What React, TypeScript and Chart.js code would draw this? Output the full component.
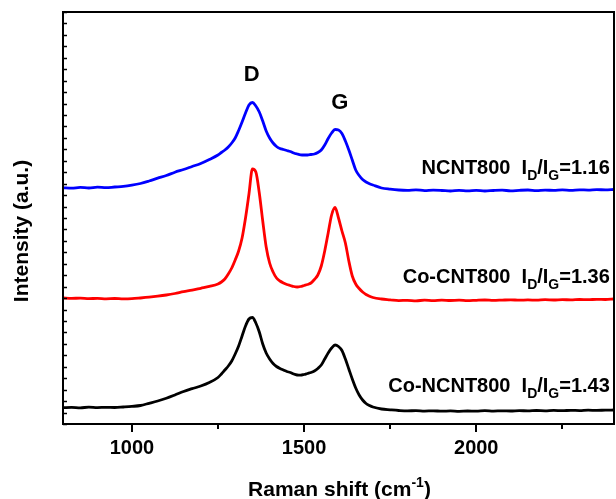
import React, { useEffect, useRef } from 'react';
import { Chart, registerables } from 'chart.js';

Chart.register(...registerables);

// Raman shift grid (cm-1)
const WAVENUMBER = [
  800, 825, 850, 875, 900, 925, 950, 975, 1000, 1025,
  1050, 1075, 1100, 1125, 1150, 1175, 1200, 1225, 1250,
  1260, 1270, 1280, 1290, 1300, 1310, 1320, 1330, 1340, 1350,
  1360, 1370, 1380, 1390, 1400, 1410, 1420, 1430, 1440, 1450,
  1460, 1470, 1480, 1490, 1500, 1510, 1520, 1530, 1540, 1550,
  1560, 1570, 1580, 1590, 1600, 1610, 1620, 1630, 1640, 1650,
  1660, 1670, 1680, 1690, 1700,
  1725, 1750, 1775, 1800, 1825, 1850, 1875, 1900, 1925, 1950,
  1975, 2000, 2025, 2050, 2075, 2100, 2125, 2150, 2175, 2200,
  2225, 2250, 2275, 2300, 2325, 2350, 2375, 2400,
];

// Intensities (a.u.) relative to each spectrum's own baseline
const NCNT800 = [
  1.2, 0.8, 1.6, 1.0, 1.8, 1.3, 2.0, 2.6, 3.8, 5.5,
  8.0, 10.8, 13.5, 16.8, 19.5, 22.5, 25.5, 29.5, 34.0,
  36.5, 39, 42, 46, 51, 58.5, 67, 76, 84, 86.5,
  83, 77, 68, 58, 51, 46, 42.5, 40.5, 39.5, 38.5,
  37.5, 36, 35, 34.2, 34, 34, 34.5, 35, 36.5, 39,
  44, 50.5, 56, 59.5, 59, 55.5, 48, 39, 29, 19,
  13.5, 9.5, 7, 5.3, 4,
  1.0, -0.2, -1.0, -1.3, -0.8, -1.6, -1.2, -1.5, -2.0, -1.3,
  -1.8, -1.4, -2.0, -1.5, -1.2, -1.8, -1.3, -1.0, -1.6, -1.1,
  -1.4, -0.9, -1.3, -0.8, -1.1, -0.6, -0.9, -0.5,
];

const CO_CNT800 = [
  1.0, 0.6, 0.9, 0.4, 0.6, 0.2, 0.5, 0.1, 0.3, 1.0,
  1.8, 2.8, 4.0, 5.5, 7.3, 8.8, 10.7, 12.6, 15,
  17, 20, 25, 31, 39, 48, 61, 81, 105, 130,
  127, 106, 78, 52, 36, 27, 21, 18, 16, 14.5,
  13.5, 12.5, 12, 12.5, 13.5, 14.5, 16, 19.5, 24, 33,
  48, 66, 84, 91.5, 81, 68, 56, 38, 23, 15,
  10.5, 7, 4.5, 2.8, 1.5,
  0, -0.8, -1.6, -1.3, -1.8, -1.2, -1.6, -1.1, -1.5, -1.2,
  -1.7, -1.3, -1.0, -1.4, -1.1, -0.8, -1.2, -0.9, -1.2, -0.7,
  -1.0, -0.6, -0.9, -0.5, -0.7, -0.3, -0.5, 0,
];

const CO_NCNT800 = [
  1.3, 1.6, 1.2, 1.8, 1.4, 1.7, 1.5, 2.0, 2.6, 3.5,
  5.7, 8.0, 10.7, 14.0, 17.5, 20.3, 23, 26.5, 31.5,
  35, 39, 43, 48, 55, 63, 73, 83, 90, 91.5,
  86, 77, 65, 56, 50, 45.5, 42.5, 40.5, 39, 37.5,
  36.5, 35, 34, 33.8, 34.5, 35.5, 36.5, 38, 40.5, 44,
  50, 56, 61, 64, 62.5, 58.5, 50, 40, 30, 21,
  14, 9, 5.5, 3.5, 2,
  0, -0.8, -1.5, -1.9, -1.6, -2.1, -1.8, -2.2, -1.9, -2.3,
  -2.0, -2.2, -1.7, -2.1, -1.8, -2.0, -1.6, -1.9, -1.5, -1.8,
  -1.4, -1.7, -1.3, -1.6, -1.2, -1.4, -1.1, -1.0,
];

// vertical offsets used to stack the spectra
const OFFSET_NCNT800 = 235;
const OFFSET_CO_CNT800 = 125;
const OFFSET_CO_NCNT800 = 15;

const X_MIN = 800;
const X_MAX = 2400;
const Y_MAX = 412;
const Y_TICK_COUNT = 36;
const X_TICKS = [1000, 1250, 1500, 1750, 2000, 2250];
const X_LABELED = [1000, 1500, 2000];

const SAMPLE_NAMES = ['NCNT800', 'Co-CNT800', 'Co-NCNT800'];
const SAMPLE_RATIOS = ['1.16', '1.36', '1.43'];
const SAMPLE_COLORS = ['#0000ff', '#ff0000', '#000000'];
const LABEL_Y = [250, 141, 32];
const LABEL_X = 2388;

const PEAK_NAMES = ['D', 'G'];
const PEAK_X = [1348, 1604];
const PEAK_Y = [349, 321];

const X_TITLE = 'Raman shift (cm';
const X_TITLE_SUP = '-1';
const Y_TITLE = 'Intensity (a.u.)';

const FONT = '"Liberation Sans", Arial, sans-serif';

const decorPlugin = {
  id: 'decor',
  afterDraw(chart: any) {
    const { ctx, chartArea: a, scales } = chart;
    const xs = scales.x;
    const ys = scales.y;
    ctx.save();
    // frame
    ctx.strokeStyle = '#000';
    ctx.lineWidth = 2;
    ctx.strokeRect(a.left, a.top, a.right - a.left, a.bottom - a.top);
    // y ticks (inward)
    ctx.lineWidth = 1.5;
    ys.ticks.forEach((t: any) => {
      const py = Math.round(ys.getPixelForValue(t.value)) + 0.5;
      ctx.beginPath();
      ctx.moveTo(a.left, py);
      ctx.lineTo(a.left + 4, py);
      ctx.stroke();
    });
    // x ticks (outward)
    ctx.lineWidth = 2;
    xs.ticks.forEach((t: any) => {
      const px = Math.round(xs.getPixelForValue(t.value));
      const len = X_LABELED.includes(t.value) ? 8 : 5;
      ctx.beginPath();
      ctx.moveTo(px, a.bottom);
      ctx.lineTo(px, a.bottom + len);
      ctx.stroke();
    });

    ctx.fillStyle = '#000';

    // x title with superscript
    const big = `bold 21px ${FONT}`;
    const sup = `bold 14px ${FONT}`;
    ctx.textBaseline = 'alphabetic';
    ctx.textAlign = 'left';
    const parts1 = [
      { t: X_TITLE, f: big, dy: 0 },
      { t: X_TITLE_SUP, f: sup, dy: -9 },
      { t: ')', f: big, dy: 0 },
    ];
    let w = 0;
    parts1.forEach((p) => { ctx.font = p.f; w += ctx.measureText(p.t).width; });
    let cx = (a.left + a.right) / 2 + 1 - w / 2;
    const baseY = 496;
    parts1.forEach((p) => {
      ctx.font = p.f;
      ctx.fillText(p.t, cx, baseY + p.dy);
      cx += ctx.measureText(p.t).width;
    });

    // y title (rotated)
    ctx.save();
    ctx.translate(22, (a.top + a.bottom) / 2 + 13);
    ctx.rotate(-Math.PI / 2);
    ctx.font = `bold 21px ${FONT}`;
    ctx.textAlign = 'center';
    ctx.textBaseline = 'middle';
    ctx.fillText(Y_TITLE, 0, 0);
    ctx.restore();

    // peak labels
    ctx.font = `bold 22px ${FONT}`;
    ctx.textAlign = 'center';
    ctx.textBaseline = 'middle';
    PEAK_NAMES.forEach((n, i) => {
      ctx.fillText(n, xs.getPixelForValue(PEAK_X[i]), ys.getPixelForValue(PEAK_Y[i]));
    });

    // sample labels
    const lab = `bold 20px ${FONT}`;
    const sub = `bold 14px ${FONT}`;
    ctx.textBaseline = 'alphabetic';
    ctx.textAlign = 'left';
    SAMPLE_NAMES.forEach((name, i) => {
      const parts = [
        { t: name + '  I', f: lab, dy: 0 },
        { t: 'D', f: sub, dy: 6 },
        { t: '/I', f: lab, dy: 0 },
        { t: 'G', f: sub, dy: 6 },
        { t: '=' + SAMPLE_RATIOS[i], f: lab, dy: 0 },
      ];
      let tw = 0;
      parts.forEach((p) => { ctx.font = p.f; tw += ctx.measureText(p.t).width; });
      let x0 = xs.getPixelForValue(LABEL_X) - tw;
      const y0 = ys.getPixelForValue(LABEL_Y[i]);
      parts.forEach((p) => {
        ctx.font = p.f;
        ctx.fillText(p.t, x0, y0 + p.dy);
        x0 += ctx.measureText(p.t).width;
      });
    });
    ctx.restore();
  },
};

export default function App() {
  const ref = useRef<HTMLCanvasElement | null>(null);

  useEffect(() => {
    if (!ref.current) return;
    const series = [NCNT800, CO_CNT800, CO_NCNT800];
    const offsets = [OFFSET_NCNT800, OFFSET_CO_CNT800, OFFSET_CO_NCNT800];
    const chart = new Chart(ref.current, {
      type: 'line',
      data: {
        datasets: series.map((s, i) => ({
          label: SAMPLE_NAMES[i],
          data: WAVENUMBER.map((x, j) => ({ x, y: s[j] + offsets[i] })),
          borderColor: SAMPLE_COLORS[i],
          backgroundColor: SAMPLE_COLORS[i],
          borderWidth: 2.8,
          pointRadius: 0,
          cubicInterpolationMode: 'monotone',
          fill: false,
        })),
      },
      options: {
        animation: false,
        responsive: false,
        devicePixelRatio: 1,
        layout: { padding: { top: 12, right: 2, left: 0, bottom: 0 } },
        plugins: { legend: { display: false }, tooltip: { enabled: false } },
        scales: {
          x: {
            type: 'linear',
            min: X_MIN,
            max: X_MAX,
            grid: { display: false, drawTicks: false },
            border: { display: false },
            afterBuildTicks: (s: any) => { s.ticks = X_TICKS.map((v) => ({ value: v })); },
            afterFit: (s: any) => { s.height = 75; },
            ticks: {
              autoSkip: false,
              maxRotation: 0,
              padding: 12,
              color: '#000',
              font: { family: FONT, size: 20, weight: 'bold' },
              callback: (v: any) => (X_LABELED.includes(Number(v)) ? String(v) : ''),
            },
          },
          y: {
            type: 'linear',
            min: 0,
            max: Y_MAX,
            grid: { display: false, drawTicks: false },
            border: { display: false },
            afterBuildTicks: (s: any) => {
              const t = [];
              for (let i = 0; i <= Y_TICK_COUNT; i++) t.push({ value: (i * Y_MAX) / Y_TICK_COUNT });
              s.ticks = t;
            },
            afterFit: (s: any) => { s.width = 63; },
            ticks: { display: false },
            title: { display: false },
          },
        },
      },
      plugins: [decorPlugin],
    } as any);
    return () => chart.destroy();
  }, []);

  return (
    <div style={{ position: 'fixed', left: 0, top: 0, width: 616, height: 499, background: '#fff' }}>
      <canvas ref={ref} width={616} height={499} style={{ display: 'block', width: 616, height: 499 }} />
    </div>
  );
}
